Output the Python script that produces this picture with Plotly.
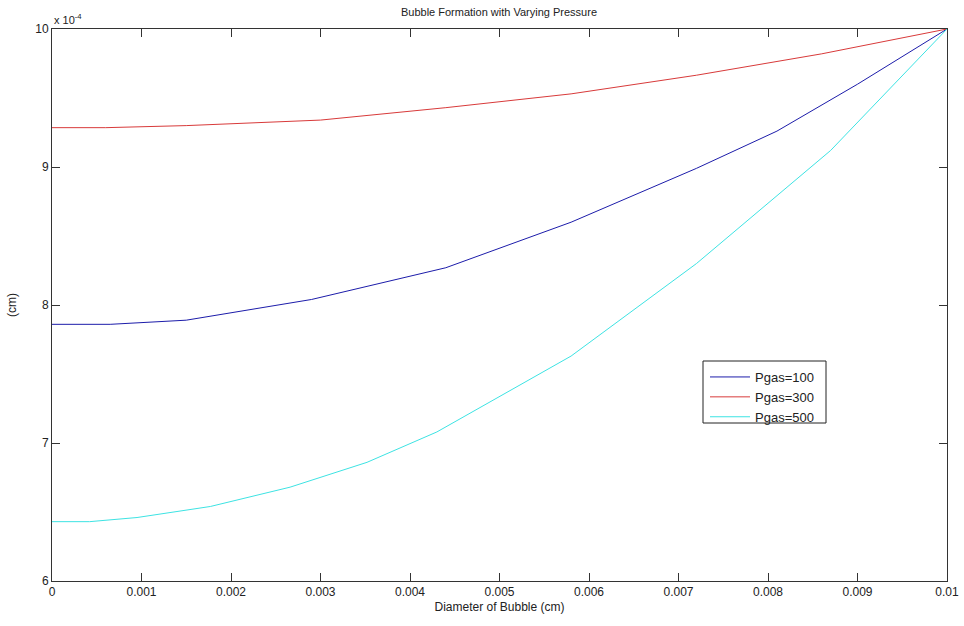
import plotly.graph_objects as go

# Data (y values in cm; scale 1e-4)
pgas100_x = [0, 0.00065, 0.0015, 0.0029, 0.0044, 0.0058, 0.0072, 0.0081, 0.0090, 0.0100]
pgas100_y = [7.86, 7.86, 7.89, 8.04, 8.27, 8.60, 8.99, 9.26, 9.60, 10.0]

pgas300_x = [0, 0.0006, 0.0015, 0.0030, 0.0044, 0.0058, 0.0072, 0.0086, 0.0100]
pgas300_y = [9.285, 9.285, 9.30, 9.34, 9.43, 9.53, 9.665, 9.82, 10.0]

pgas500_x = [0, 0.00042, 0.00095, 0.00177, 0.00266, 0.00352, 0.0043, 0.0058, 0.0072, 0.0087, 0.0100]
pgas500_y = [6.43, 6.43, 6.46, 6.54, 6.68, 6.86, 7.08, 7.63, 8.30, 9.12, 10.0]

scale = 1e-4
x_ticks = [0, 0.001, 0.002, 0.003, 0.004, 0.005, 0.006, 0.007, 0.008, 0.009, 0.01]
x_ticklabels = ["0", "0.001", "0.002", "0.003", "0.004", "0.005", "0.006", "0.007", "0.008", "0.009", "0.01"]
y_ticks = [6, 7, 8, 9, 10]
y_ticklabels = ["6", "7", "8", "9", "10"]

series = [
    ("Pgas=100", pgas100_x, pgas100_y, "#1c1caa"),
    ("Pgas=300", pgas300_x, pgas300_y, "#d83a3a"),
    ("Pgas=500", pgas500_x, pgas500_y, "#3de3e3"),
]

fig = go.Figure()
for name, xs, ys, col in series:
    fig.add_trace(go.Scatter(x=xs, y=[v * scale for v in ys], mode="lines", name=name,
                             line=dict(color=col, width=1)))

font = "Liberation Sans, Arial, sans-serif"
axis_common = dict(showgrid=False, zeroline=False, showline=True, linecolor="#333333", linewidth=1,
                   mirror="ticks", ticks="inside", ticklen=8, tickcolor="#333333",
                   tickfont=dict(family=font, size=12, color="#222222"))

W, H = 964, 626
L, R, T, B = 52, 17, 29, 45
pw, ph = W - L - R, H - T - B


def px_x(p):
    return (p - L) / pw


def px_y(p):
    return (H - B - p) / ph


fig.update_layout(
    width=W, height=H,
    margin=dict(l=L, r=R, t=T, b=B, autoexpand=False),
    paper_bgcolor="white", plot_bgcolor="white",
    font=dict(family=font, size=12, color="#222222"),
    title=dict(text="Bubble Formation with Varying Pressure", x=499 / W, xanchor="center",
               y=1 - 12 / H, yanchor="middle",
               font=dict(family=font, size=11, color="#222222")),
    xaxis=dict(range=[0, 0.01], tickvals=x_ticks, ticktext=x_ticklabels,
               title=dict(text="Diameter of Bubble (cm)", standoff=4, font=dict(family=font, size=12)),
               **axis_common),
    yaxis=dict(range=[6 * scale, 10 * scale], tickvals=[v * scale for v in y_ticks], ticktext=y_ticklabels,
               title=dict(text="(cm)", standoff=16, font=dict(family=font, size=12)),
               **axis_common),
    legend=dict(x=px_x(705), y=px_y(362), xanchor="left", yanchor="top",
                bgcolor="rgba(0,0,0,0)", borderwidth=0,
                font=dict(family=font, size=13, color="#222222"), itemwidth=40,
                tracegroupgap=0),
    showlegend=True,
)

# legend frame (MATLAB style box)
fig.add_shape(type="rect", xref="paper", yref="paper",
              x0=px_x(703), x1=px_x(826), y0=px_y(423), y1=px_y(361),
              line=dict(color="#222222", width=1), fillcolor="white", layer="above")

fig.add_annotation(text="x 10<sup>-4</sup>", xref="paper", yref="paper", x=0, y=1,
                   xanchor="left", yanchor="bottom", showarrow=False, yshift=1,
                   font=dict(family=font, size=11, color="#222222"))

fig.write_html("out.html", config={"displayModeBar": False},
               post_script="document.body.style.margin='0px';")
